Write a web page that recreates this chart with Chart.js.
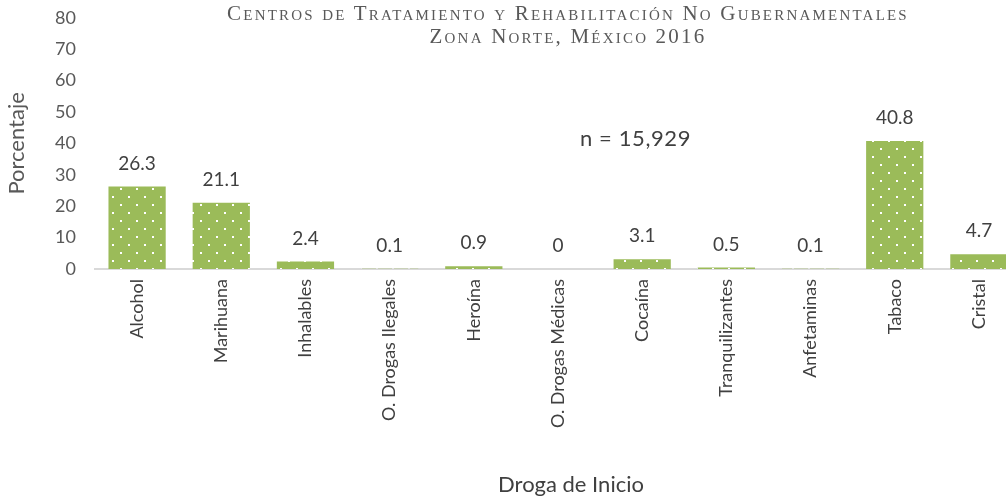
<!DOCTYPE html>
<html lang="es">
<head>
  <meta charset="UTF-8" />
  <title>Droga de Inicio</title>
  <script src="https://cdn.jsdelivr.net/npm/chart.js"></script>
  <style>
    html, body {
      margin: 0;
      padding: 0;
      background: #ffffff;
      overflow: hidden;
    }
    .wrap {
      position: relative;
      width: 1006px;
      height: 498px;
      overflow: hidden;
    }
    /* canvas is a bit wider/taller than the window: the last bar is clipped in the original */
    .chart-box {
      position: absolute;
      left: 0;
      top: -12px;
      width: 1021px;
      height: 510px;
    }
    .title {
      position: absolute;
      left: 168px;
      top: 2px;
      width: 800px;
      text-align: center;
      font-family: 'Liberation Serif', serif;
      font-variant: small-caps;
      font-size: 21px;
      letter-spacing: 2.2px;
      line-height: 23px;
      color: #595959;
    }
    .note {
      position: absolute;
      left: 580px;
      top: 124px;
      font-family: 'Lato', sans-serif;
      font-size: 22px;
      letter-spacing: 0.6px;
      color: #404040;
    }
  </style>
</head>
<body>
  <div class="wrap">
    <div class="chart-box">
      <canvas id="barChart" width="1021" height="510"></canvas>
    </div>
    <div class="title" id="title"></div>
    <div class="note" id="note"></div>
  </div>

  <script>
    // data
    const drogas = ["Alcohol", "Marihuana", "Inhalables", "O. Drogas Ilegales", "Heroína",
      "O. Drogas Médicas", "Cocaína", "Tranquilizantes", "Anfetaminas", "Tabaco", "Cristal"];
    const porcentajes = [26.3, 21.1, 2.4, 0.1, 0.9, 0, 3.1, 0.5, 0.1, 40.8, 4.7];
    const yTicks = [0, 10, 20, 30, 40, 50, 60, 70, 80];
    const titulo = ["Centros de Tratamiento y Rehabilitación No Gubernamentales", "Zona Norte, México 2016"];
    const nota = "n = 15,929";
    const tituloX = "Droga de Inicio";

    document.getElementById("title").innerHTML = titulo.join("<br>");
    document.getElementById("note").textContent = nota;

    // dotted green fill
    function dotPattern() {
      const c = document.createElement("canvas");
      c.width = 16;
      c.height = 16;
      const g = c.getContext("2d");
      g.fillStyle = "#9bbb59";
      g.fillRect(0, 0, 16, 16);
      g.fillStyle = "#ffffff";
      g.fillRect(0, 0, 2, 2);
      g.fillRect(8, 8, 2, 2);
      return g.createPattern(c, "repeat");
    }

    // value labels above the bars + x axis title (sits a bit right of centre)
    const extraText = {
      id: "extraText",
      afterDatasetsDraw(chart) {
        const ctx = chart.ctx;
        const meta = chart.getDatasetMeta(0);
        ctx.save();
        ctx.font = "19px Lato";
        ctx.fillStyle = "#404040";
        ctx.textAlign = "center";
        ctx.textBaseline = "middle";
        meta.data.forEach((bar, i) => {
          ctx.fillText(String(porcentajes[i]), bar.x, bar.y - 23);
        });
        ctx.font = "22px Lato";
        ctx.fillText(tituloX, 571, chart.height - 13);
        ctx.restore();
      }
    };

    const barChart = new Chart(document.getElementById("barChart"), {
      type: "bar",
      data: {
        labels: drogas,
        datasets: [{
          data: porcentajes,
          backgroundColor: dotPattern(),
          barPercentage: 0.68,
          categoryPercentage: 1
        }]
      },
      options: {
        responsive: false,
        animation: false,
        layout: { padding: { top: 6, right: 0, bottom: 0, left: 0 } },
        plugins: {
          legend: { display: false },
          tooltip: { enabled: false }
        },
        scales: {
          x: {
            grid: { display: false, drawTicks: false },
            border: { display: true, color: "#d9d9d9", width: 2 },
            ticks: {
              color: "#404040",
              font: { family: "Lato", size: 18 },
              minRotation: 90,
              maxRotation: 90,
              padding: 10,
              autoSkip: false
            },
            afterFit(scale) { scale.height = 229; }
          },
          y: {
            min: 0,
            max: 80,
            afterBuildTicks(scale) { scale.ticks = yTicks.map(v => ({ value: v })); },
            grid: { display: false, drawTicks: false },
            border: { display: false },
            ticks: {
              color: "#595959",
              font: { family: "Lato", size: 18 },
              padding: 19
            },
            title: {
              display: true,
              text: "Porcentaje",
              color: "#595959",
              font: { family: "Lato", size: 22 },
              padding: { top: 4, bottom: 0 }
            },
            afterFit(scale) { scale.width = 95; }
          }
        }
      },
      plugins: [extraText]
    });
  </script>
</body>
</html>
